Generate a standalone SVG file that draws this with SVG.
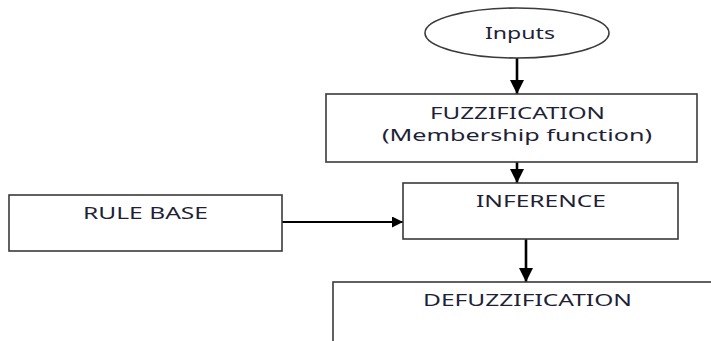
<svg xmlns="http://www.w3.org/2000/svg" width="711" height="341" viewBox="0 0 711 341">
<defs>
<style>
.box{fill:#fff;stroke:#3a3a3a;stroke-width:1.6}
.lbl{font-family:"Noto Sans","Liberation Sans",sans-serif;font-size:17px;fill:#1f1f38;text-anchor:middle}
.con{stroke:#000;stroke-width:2.6;fill:none}
</style>
<marker id="ah" viewBox="0 0 10 10" refX="10" refY="5" markerWidth="5.5" markerHeight="5.5" orient="auto" markerUnits="strokeWidth">
<path d="M0,0 L10,5 L0,10 z" fill="#000"/>
</marker>
</defs>
<rect width="711" height="341" fill="#fff"/>
<g id="connectors">
<line class="con" x1="517" y1="58" x2="517" y2="94" marker-end="url(#ah)"/>
<line class="con" x1="517" y1="162" x2="517" y2="183" marker-end="url(#ah)"/>
<line x1="282" y1="222" x2="403" y2="222" stroke="#000" stroke-width="2" marker-end="url(#ah)"/>
<line class="con" x1="526" y1="239" x2="526" y2="282" marker-end="url(#ah)"/>
</g>
<g id="inputs">
<ellipse class="box" cx="517" cy="33" rx="92" ry="25"/>
<text class="lbl" x="520" y="39" textLength="70" lengthAdjust="spacingAndGlyphs">Inputs</text>
</g>
<g id="fuzzification">
<rect class="box" x="326" y="94" width="371" height="68"/>
<text class="lbl" x="517.5" y="119" textLength="175" lengthAdjust="spacingAndGlyphs">FUZZIFICATION</text>
<text class="lbl" x="517" y="141" textLength="270" lengthAdjust="spacingAndGlyphs">(Membership function)</text>
</g>
<g id="inference">
<rect class="box" x="403" y="183" width="275" height="56"/>
<text class="lbl" x="541" y="207" textLength="130" lengthAdjust="spacingAndGlyphs">INFERENCE</text>
</g>
<g id="rulebase">
<rect class="box" x="9" y="195" width="273" height="56"/>
<text class="lbl" x="145.5" y="219" textLength="125" lengthAdjust="spacingAndGlyphs">RULE BASE</text>
</g>
<g id="defuzzification">
<rect class="box" x="333" y="282" width="400" height="80"/>
<text class="lbl" x="527.5" y="306" textLength="209" lengthAdjust="spacingAndGlyphs">DEFUZZIFICATION</text>
</g>
</svg>
